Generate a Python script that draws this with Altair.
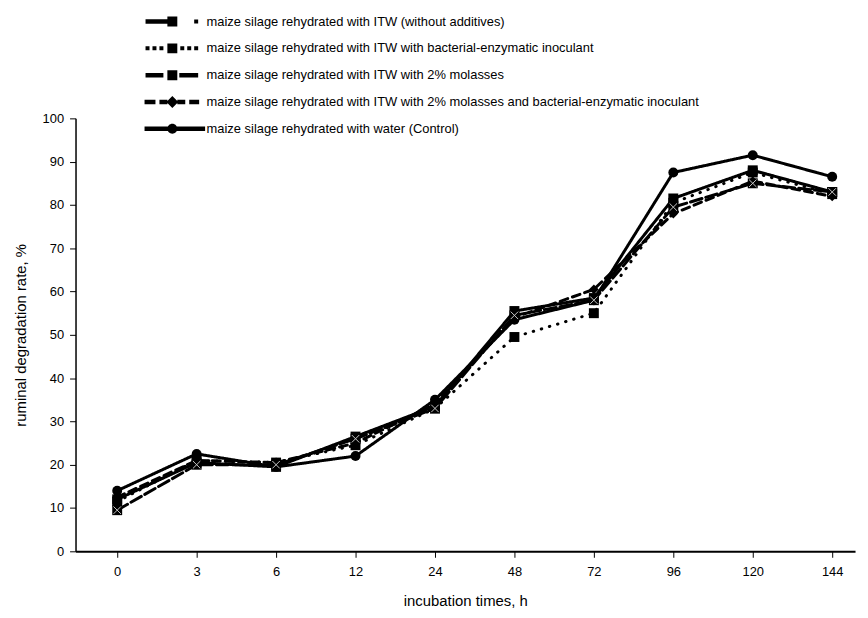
import altair as alt
import pandas as pd

times = ["0", "3", "6", "12", "24", "48", "72", "96", "120", "144"]

series_names = [
    "maize silage rehydrated with ITW (without additives)",
    "maize silage rehydrated with ITW with bacterial-enzymatic inoculant",
    "maize silage rehydrated with ITW with 2% molasses",
    "maize silage rehydrated with ITW with 2% molasses and bacterial-enzymatic inoculant",
    "maize silage rehydrated with water (Control)",
]

itw_plain = [12, 20.5, 19.5, 26.5, 33.5, 55.5, 58.5, 81.5, 88, 83]
itw_bacterial = [11.5, 21, 20.5, 24.5, 33, 49.5, 55, 80.5, 87.5, 82.5]
itw_molasses = [9.5, 20, 20, 26, 33, 54.5, 58, 79.5, 85, 83]
itw_molasses_bacterial = [12.5, 21, 20.5, 25, 34, 54, 60.5, 78, 85.5, 82]
control_water = [14, 22.5, 19.5, 22, 35, 53.5, 58, 87.5, 91.5, 86.5]

all_values = [itw_plain, itw_bacterial, itw_molasses, itw_molasses_bacterial, control_water]

rows = []
for name, vals in zip(series_names, all_values):
    for t, v in zip(times, vals):
        rows.append({"time": t, "value": v, "series": name})
df = pd.DataFrame(rows)

FONT = "Liberation Sans"

x_enc = alt.X(
    "time:O",
    sort=times,
    scale=alt.Scale(type="point", padding=0.406, align=0.646),
    axis=alt.Axis(title="incubation times, h", labelAngle=0),
)
y_enc = alt.Y(
    "value:Q",
    scale=alt.Scale(domain=[0, 100], nice=False),
    axis=alt.Axis(title="ruminal degradation rate, %", values=list(range(0, 101, 10))),
)

dash_scale = alt.Scale(
    domain=series_names,
    range=[[1, 0], [0.5, 8], [12, 4], [8, 5], [1, 0]],
)

lines = alt.Chart(df).mark_line(color="black", strokeWidth=3, strokeCap="round").encode(
    x=x_enc,
    y=y_enc,
    strokeDash=alt.StrokeDash("series:N", scale=dash_scale, legend=None),
    detail="series:N",
)

points = alt.Chart(df).mark_point(filled=True, color="black", opacity=1, size=100).encode(
    x=x_enc,
    y=y_enc,
    shape=alt.Shape(
        "series:N",
        scale=alt.Scale(domain=series_names, range=["square", "square", "square", "diamond", "circle"]),
        legend=None,
    ),
)

xmark = alt.Chart(df).transform_filter(
    alt.datum.series == series_names[2]
).mark_point(
    shape="M-0.75,-0.75L0.75,0.75M-0.75,0.75L0.75,-0.75",
    filled=False, color="#c8c8c8", strokeWidth=1, size=100, opacity=1,
).encode(x=x_enc, y=y_enc)

# legend symbols: line segments + marker, drawn as custom symbol paths
sq = "M-1,-1H1V1H-1Z"
p_plain = "M-5.4,-0.45H-1V0.45H-5.4Z" + sq + "M4.4,-0.4H5.2V0.4H4.4Z"
p_bact = ("M-5.4,-0.4H-4.6V0.4H-5.4Z M-4,-0.4H-3.2V0.4H-4Z M-2.6,-0.4H-1.8V0.4H-2.6Z" + sq +
          "M1.6,-0.4H2.4V0.4H1.6Z M3,-0.4H3.8V0.4H3Z M4.4,-0.4H5.2V0.4H4.4Z")
p_mol = ("M-5.4,-0.45H-1.8V0.45H-5.4Z" + sq + "M1.4,-0.45H5.2V0.45H1.4Z")
p_molb = ("M-5.6,-0.45H-3.4V0.45H-5.6Z M-2.6,-0.45H-1V0.45H-2.6Z" +
          "M0,-1.2L1.2,0L0,1.2L-1.2,0Z" + "M1,-0.45H2.6V0.45H1Z M3.4,-0.45H5.4V0.45H3.4Z")
p_ctrl = "M-5.6,-0.45H6.6V0.45H-5.6Z M0,-1 A1,1 0 1,1 0,1 A1,1 0 1,1 0,-1Z"

legend_layer = alt.Chart(df).transform_filter("false").mark_point(
    filled=True, color="black", size=100
).encode(
    x=x_enc,
    y=y_enc,
    shape=alt.Shape(
        "series:N",
        scale=alt.Scale(domain=series_names, range=[p_plain, p_bact, p_mol, p_molb, p_ctrl]),
        legend=alt.Legend(
            title=None,
            orient="none",
            legendX=91,
            legendY=-104,
            labelFont=FONT,
            labelFontSize=13,
            labelColor="black",
            labelLimit=700,
            labelOffset=28,
            symbolSize=100,
            symbolFillColor="black",
            symbolStrokeColor="black",
            symbolStrokeWidth=0,
            symbolOpacity=1,
            rowPadding=13,
        ),
    ),
)

chart = alt.layer(lines, points, xmark, legend_layer).resolve_scale(
    shape="independent"
).properties(
    width=785,
    height=436,
).configure_view(
    stroke=None
).configure_axis(
    domainColor="black",
    domainWidth=1.5,
    tickColor="black",
    tickWidth=1,
    tickSize=6,
    grid=False,
    labelFont=FONT,
    labelFontSize=13,
    labelColor="black",
    titleFont=FONT,
    titleFontSize=15,
    titleFontWeight="normal",
    titleColor="black",
).configure_axisX(
    domainWidth=2,
    labelPadding=8,
    titlePadding=16,
).configure_axisY(
    labelPadding=6,
    titlePadding=14,
)

chart.save("out.html", embed_options={"renderer": "svg", "actions": False})
